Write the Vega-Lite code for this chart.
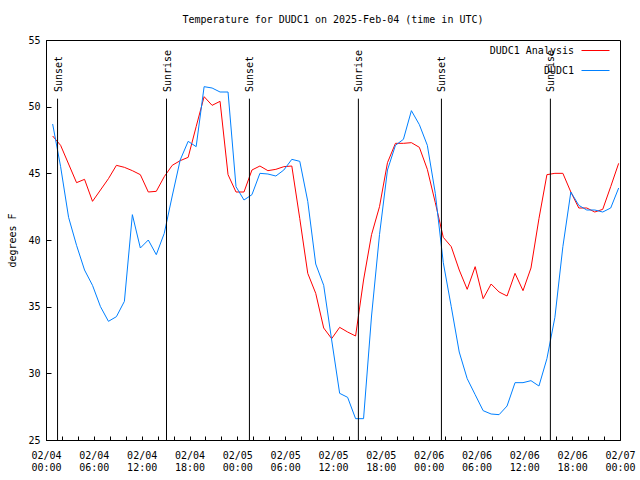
{
  "$schema": "https://vega.github.io/schema/vega-lite/v6.json",
  "width": 574,
  "height": 400,
  "autosize": {"type": "none"},
  "padding": {"left": 46, "top": 40, "right": 20, "bottom": 40},
  "background": "white",
  "config": {
    "font": "DejaVu Sans Mono",
    "view": {"stroke": "black", "strokeWidth": 1},
    "axis": {
      "labelFont": "DejaVu Sans Mono",
      "labelFontSize": 10,
      "labelColor": "black",
      "titleFont": "DejaVu Sans Mono",
      "titleFontSize": 10,
      "titleFontWeight": "normal",
      "titleColor": "black",
      "domainColor": "black",
      "tickColor": "black",
      "grid": false
    }
  },
  "title": {
    "text": "Temperature for DUDC1 on 2025-Feb-04 (time in UTC)",
    "font": "DejaVu Sans Mono",
    "fontSize": 10,
    "fontWeight": "normal",
    "color": "black",
    "anchor": "middle",
    "offset": 10
  },
  "datasets": {
    "temps": [
      {"t": "2025-02-04T00:50:00Z", "s": "DUDC1 Analysis", "v": 47.8},
      {"t": "2025-02-04T01:50:00Z", "s": "DUDC1 Analysis", "v": 47.1},
      {"t": "2025-02-04T02:50:00Z", "s": "DUDC1 Analysis", "v": 45.7},
      {"t": "2025-02-04T03:50:00Z", "s": "DUDC1 Analysis", "v": 44.3},
      {"t": "2025-02-04T04:50:00Z", "s": "DUDC1 Analysis", "v": 44.55},
      {"t": "2025-02-04T05:50:00Z", "s": "DUDC1 Analysis", "v": 42.9},
      {"t": "2025-02-04T06:50:00Z", "s": "DUDC1 Analysis", "v": 43.75},
      {"t": "2025-02-04T07:50:00Z", "s": "DUDC1 Analysis", "v": 44.6},
      {"t": "2025-02-04T08:50:00Z", "s": "DUDC1 Analysis", "v": 45.6},
      {"t": "2025-02-04T09:50:00Z", "s": "DUDC1 Analysis", "v": 45.45},
      {"t": "2025-02-04T10:50:00Z", "s": "DUDC1 Analysis", "v": 45.2},
      {"t": "2025-02-04T11:50:00Z", "s": "DUDC1 Analysis", "v": 44.9},
      {"t": "2025-02-04T12:50:00Z", "s": "DUDC1 Analysis", "v": 43.6},
      {"t": "2025-02-04T13:50:00Z", "s": "DUDC1 Analysis", "v": 43.65},
      {"t": "2025-02-04T14:50:00Z", "s": "DUDC1 Analysis", "v": 44.75},
      {"t": "2025-02-04T15:50:00Z", "s": "DUDC1 Analysis", "v": 45.6},
      {"t": "2025-02-04T16:50:00Z", "s": "DUDC1 Analysis", "v": 45.95},
      {"t": "2025-02-04T17:50:00Z", "s": "DUDC1 Analysis", "v": 46.2},
      {"t": "2025-02-04T18:50:00Z", "s": "DUDC1 Analysis", "v": 48.5},
      {"t": "2025-02-04T19:50:00Z", "s": "DUDC1 Analysis", "v": 50.75},
      {"t": "2025-02-04T20:50:00Z", "s": "DUDC1 Analysis", "v": 50.1},
      {"t": "2025-02-04T21:50:00Z", "s": "DUDC1 Analysis", "v": 50.4},
      {"t": "2025-02-04T22:50:00Z", "s": "DUDC1 Analysis", "v": 44.9},
      {"t": "2025-02-04T23:50:00Z", "s": "DUDC1 Analysis", "v": 43.6},
      {"t": "2025-02-05T00:50:00Z", "s": "DUDC1 Analysis", "v": 43.6},
      {"t": "2025-02-05T01:50:00Z", "s": "DUDC1 Analysis", "v": 45.25},
      {"t": "2025-02-05T02:50:00Z", "s": "DUDC1 Analysis", "v": 45.55},
      {"t": "2025-02-05T03:50:00Z", "s": "DUDC1 Analysis", "v": 45.2},
      {"t": "2025-02-05T04:50:00Z", "s": "DUDC1 Analysis", "v": 45.3},
      {"t": "2025-02-05T05:50:00Z", "s": "DUDC1 Analysis", "v": 45.5},
      {"t": "2025-02-05T06:50:00Z", "s": "DUDC1 Analysis", "v": 45.55},
      {"t": "2025-02-05T07:50:00Z", "s": "DUDC1 Analysis", "v": 41.6},
      {"t": "2025-02-05T08:50:00Z", "s": "DUDC1 Analysis", "v": 37.5},
      {"t": "2025-02-05T09:50:00Z", "s": "DUDC1 Analysis", "v": 36.0},
      {"t": "2025-02-05T10:50:00Z", "s": "DUDC1 Analysis", "v": 33.4},
      {"t": "2025-02-05T11:50:00Z", "s": "DUDC1 Analysis", "v": 32.6},
      {"t": "2025-02-05T12:50:00Z", "s": "DUDC1 Analysis", "v": 33.45},
      {"t": "2025-02-05T13:50:00Z", "s": "DUDC1 Analysis", "v": 33.1},
      {"t": "2025-02-05T14:50:00Z", "s": "DUDC1 Analysis", "v": 32.8},
      {"t": "2025-02-05T15:50:00Z", "s": "DUDC1 Analysis", "v": 37.0},
      {"t": "2025-02-05T16:50:00Z", "s": "DUDC1 Analysis", "v": 40.4},
      {"t": "2025-02-05T17:50:00Z", "s": "DUDC1 Analysis", "v": 42.5},
      {"t": "2025-02-05T18:50:00Z", "s": "DUDC1 Analysis", "v": 45.8},
      {"t": "2025-02-05T19:50:00Z", "s": "DUDC1 Analysis", "v": 47.25},
      {"t": "2025-02-05T20:50:00Z", "s": "DUDC1 Analysis", "v": 47.25},
      {"t": "2025-02-05T21:50:00Z", "s": "DUDC1 Analysis", "v": 47.3},
      {"t": "2025-02-05T22:50:00Z", "s": "DUDC1 Analysis", "v": 46.95},
      {"t": "2025-02-05T23:50:00Z", "s": "DUDC1 Analysis", "v": 45.3},
      {"t": "2025-02-06T00:50:00Z", "s": "DUDC1 Analysis", "v": 42.8},
      {"t": "2025-02-06T01:50:00Z", "s": "DUDC1 Analysis", "v": 40.2},
      {"t": "2025-02-06T02:50:00Z", "s": "DUDC1 Analysis", "v": 39.5},
      {"t": "2025-02-06T03:50:00Z", "s": "DUDC1 Analysis", "v": 37.75},
      {"t": "2025-02-06T04:50:00Z", "s": "DUDC1 Analysis", "v": 36.3},
      {"t": "2025-02-06T05:50:00Z", "s": "DUDC1 Analysis", "v": 38.0},
      {"t": "2025-02-06T06:50:00Z", "s": "DUDC1 Analysis", "v": 35.6},
      {"t": "2025-02-06T07:50:00Z", "s": "DUDC1 Analysis", "v": 36.7},
      {"t": "2025-02-06T08:50:00Z", "s": "DUDC1 Analysis", "v": 36.1},
      {"t": "2025-02-06T09:50:00Z", "s": "DUDC1 Analysis", "v": 35.8},
      {"t": "2025-02-06T10:50:00Z", "s": "DUDC1 Analysis", "v": 37.5},
      {"t": "2025-02-06T11:50:00Z", "s": "DUDC1 Analysis", "v": 36.2},
      {"t": "2025-02-06T12:50:00Z", "s": "DUDC1 Analysis", "v": 37.9},
      {"t": "2025-02-06T13:50:00Z", "s": "DUDC1 Analysis", "v": 41.6},
      {"t": "2025-02-06T14:50:00Z", "s": "DUDC1 Analysis", "v": 44.9},
      {"t": "2025-02-06T15:50:00Z", "s": "DUDC1 Analysis", "v": 45.0},
      {"t": "2025-02-06T16:50:00Z", "s": "DUDC1 Analysis", "v": 45.0},
      {"t": "2025-02-06T17:50:00Z", "s": "DUDC1 Analysis", "v": 43.6},
      {"t": "2025-02-06T18:50:00Z", "s": "DUDC1 Analysis", "v": 42.4},
      {"t": "2025-02-06T19:50:00Z", "s": "DUDC1 Analysis", "v": 42.4},
      {"t": "2025-02-06T20:50:00Z", "s": "DUDC1 Analysis", "v": 42.1},
      {"t": "2025-02-06T21:50:00Z", "s": "DUDC1 Analysis", "v": 42.3},
      {"t": "2025-02-06T22:50:00Z", "s": "DUDC1 Analysis", "v": 44.0},
      {"t": "2025-02-06T23:50:00Z", "s": "DUDC1 Analysis", "v": 45.75},
      {"t": "2025-02-04T00:50:00Z", "s": "DUDC1", "v": 48.7},
      {"t": "2025-02-04T01:50:00Z", "s": "DUDC1", "v": 45.5},
      {"t": "2025-02-04T02:50:00Z", "s": "DUDC1", "v": 41.7},
      {"t": "2025-02-04T03:50:00Z", "s": "DUDC1", "v": 39.6},
      {"t": "2025-02-04T04:50:00Z", "s": "DUDC1", "v": 37.75},
      {"t": "2025-02-04T05:50:00Z", "s": "DUDC1", "v": 36.6},
      {"t": "2025-02-04T06:50:00Z", "s": "DUDC1", "v": 35.0},
      {"t": "2025-02-04T07:50:00Z", "s": "DUDC1", "v": 33.9},
      {"t": "2025-02-04T08:50:00Z", "s": "DUDC1", "v": 34.25},
      {"t": "2025-02-04T09:50:00Z", "s": "DUDC1", "v": 35.4},
      {"t": "2025-02-04T10:50:00Z", "s": "DUDC1", "v": 41.9},
      {"t": "2025-02-04T11:50:00Z", "s": "DUDC1", "v": 39.4},
      {"t": "2025-02-04T12:50:00Z", "s": "DUDC1", "v": 40.0},
      {"t": "2025-02-04T13:50:00Z", "s": "DUDC1", "v": 38.9},
      {"t": "2025-02-04T14:50:00Z", "s": "DUDC1", "v": 40.5},
      {"t": "2025-02-04T15:50:00Z", "s": "DUDC1", "v": 43.3},
      {"t": "2025-02-04T16:50:00Z", "s": "DUDC1", "v": 46.0},
      {"t": "2025-02-04T17:50:00Z", "s": "DUDC1", "v": 47.4},
      {"t": "2025-02-04T18:50:00Z", "s": "DUDC1", "v": 47.0},
      {"t": "2025-02-04T19:50:00Z", "s": "DUDC1", "v": 51.5},
      {"t": "2025-02-04T20:50:00Z", "s": "DUDC1", "v": 51.4},
      {"t": "2025-02-04T21:50:00Z", "s": "DUDC1", "v": 51.1},
      {"t": "2025-02-04T22:50:00Z", "s": "DUDC1", "v": 51.1},
      {"t": "2025-02-04T23:50:00Z", "s": "DUDC1", "v": 44.0},
      {"t": "2025-02-05T00:50:00Z", "s": "DUDC1", "v": 43.0},
      {"t": "2025-02-05T01:50:00Z", "s": "DUDC1", "v": 43.4},
      {"t": "2025-02-05T02:50:00Z", "s": "DUDC1", "v": 45.0},
      {"t": "2025-02-05T03:50:00Z", "s": "DUDC1", "v": 44.95},
      {"t": "2025-02-05T04:50:00Z", "s": "DUDC1", "v": 44.8},
      {"t": "2025-02-05T05:50:00Z", "s": "DUDC1", "v": 45.25},
      {"t": "2025-02-05T06:50:00Z", "s": "DUDC1", "v": 46.05},
      {"t": "2025-02-05T07:50:00Z", "s": "DUDC1", "v": 45.9},
      {"t": "2025-02-05T08:50:00Z", "s": "DUDC1", "v": 42.9},
      {"t": "2025-02-05T09:50:00Z", "s": "DUDC1", "v": 38.2},
      {"t": "2025-02-05T10:50:00Z", "s": "DUDC1", "v": 36.6},
      {"t": "2025-02-05T11:50:00Z", "s": "DUDC1", "v": 32.5},
      {"t": "2025-02-05T12:50:00Z", "s": "DUDC1", "v": 28.5},
      {"t": "2025-02-05T13:50:00Z", "s": "DUDC1", "v": 28.2},
      {"t": "2025-02-05T14:50:00Z", "s": "DUDC1", "v": 26.6},
      {"t": "2025-02-05T15:50:00Z", "s": "DUDC1", "v": 26.6},
      {"t": "2025-02-05T16:50:00Z", "s": "DUDC1", "v": 34.3},
      {"t": "2025-02-05T17:50:00Z", "s": "DUDC1", "v": 40.4},
      {"t": "2025-02-05T18:50:00Z", "s": "DUDC1", "v": 45.25},
      {"t": "2025-02-05T19:50:00Z", "s": "DUDC1", "v": 47.1},
      {"t": "2025-02-05T20:50:00Z", "s": "DUDC1", "v": 47.55},
      {"t": "2025-02-05T21:50:00Z", "s": "DUDC1", "v": 49.7},
      {"t": "2025-02-05T22:50:00Z", "s": "DUDC1", "v": 48.65},
      {"t": "2025-02-05T23:50:00Z", "s": "DUDC1", "v": 47.1},
      {"t": "2025-02-06T00:50:00Z", "s": "DUDC1", "v": 43.5},
      {"t": "2025-02-06T01:50:00Z", "s": "DUDC1", "v": 38.3},
      {"t": "2025-02-06T02:50:00Z", "s": "DUDC1", "v": 35.0},
      {"t": "2025-02-06T03:50:00Z", "s": "DUDC1", "v": 31.6},
      {"t": "2025-02-06T04:50:00Z", "s": "DUDC1", "v": 29.6},
      {"t": "2025-02-06T05:50:00Z", "s": "DUDC1", "v": 28.4},
      {"t": "2025-02-06T06:50:00Z", "s": "DUDC1", "v": 27.2},
      {"t": "2025-02-06T07:50:00Z", "s": "DUDC1", "v": 26.95},
      {"t": "2025-02-06T08:50:00Z", "s": "DUDC1", "v": 26.9},
      {"t": "2025-02-06T09:50:00Z", "s": "DUDC1", "v": 27.55},
      {"t": "2025-02-06T10:50:00Z", "s": "DUDC1", "v": 29.3},
      {"t": "2025-02-06T11:50:00Z", "s": "DUDC1", "v": 29.3},
      {"t": "2025-02-06T12:50:00Z", "s": "DUDC1", "v": 29.45},
      {"t": "2025-02-06T13:50:00Z", "s": "DUDC1", "v": 29.05},
      {"t": "2025-02-06T14:50:00Z", "s": "DUDC1", "v": 31.1},
      {"t": "2025-02-06T15:50:00Z", "s": "DUDC1", "v": 34.2},
      {"t": "2025-02-06T16:50:00Z", "s": "DUDC1", "v": 39.5},
      {"t": "2025-02-06T17:50:00Z", "s": "DUDC1", "v": 43.6},
      {"t": "2025-02-06T18:50:00Z", "s": "DUDC1", "v": 42.6},
      {"t": "2025-02-06T19:50:00Z", "s": "DUDC1", "v": 42.25},
      {"t": "2025-02-06T20:50:00Z", "s": "DUDC1", "v": 42.25},
      {"t": "2025-02-06T21:50:00Z", "s": "DUDC1", "v": 42.1},
      {"t": "2025-02-06T22:50:00Z", "s": "DUDC1", "v": 42.4},
      {"t": "2025-02-06T23:50:00Z", "s": "DUDC1", "v": 43.9}
    ],
    "sun": [
      {"t": "2025-02-04T01:27:00Z", "ev": "Sunset"},
      {"t": "2025-02-04T15:07:00Z", "ev": "Sunrise"},
      {"t": "2025-02-05T01:31:00Z", "ev": "Sunset"},
      {"t": "2025-02-05T15:11:00Z", "ev": "Sunrise"},
      {"t": "2025-02-06T01:36:00Z", "ev": "Sunset"},
      {"t": "2025-02-06T15:16:00Z", "ev": "Sunrise"}
    ]
  },
  "layer": [
    {
      "data": {"name": "temps"},
      "mark": {"type": "line", "strokeWidth": 1},
      "encoding": {
        "x": {
          "field": "t",
          "type": "temporal",
          "scale": {
            "type": "utc",
            "domain": [1738627200000, 1738886400000],
            "nice": false
          },
          "axis": {
            "orient": "bottom",
            "title": null,
            "values": [1738627200000, 1738634400000, 1738641600000, 1738648800000, 1738656000000, 1738663200000, 1738670400000, 1738677600000, 1738684800000, 1738692000000, 1738699200000, 1738706400000, 1738713600000, 1738720800000, 1738728000000, 1738735200000, 1738742400000, 1738749600000, 1738756800000, 1738764000000, 1738771200000, 1738778400000, 1738785600000, 1738792800000, 1738800000000, 1738807200000, 1738814400000, 1738821600000, 1738828800000, 1738836000000, 1738843200000, 1738850400000, 1738857600000, 1738864800000, 1738872000000, 1738879200000, 1738886400000],
            "tickCount": 60,
            "tickSize": -4,
            "labelExpr": "utchours(datum.value) % 6 == 0 ? [utcFormat(datum.value, '%m/%d'), utcFormat(datum.value, '%H:%M')] : ''",
            "labelOverlap": false,
            "labelFlush": false,
            "labelPadding": 14,
            "labelLineHeight": 12,
            "labelBaseline": "top"
          }
        },
        "y": {
          "field": "v",
          "type": "quantitative",
          "scale": {"domain": [25, 55], "nice": false, "zero": false},
          "axis": {
            "orient": "left",
            "title": "degrees F",
            "values": [25, 30, 35, 40, 45, 50, 55],
            "tickSize": -5,
            "labelPadding": 11,
            "titlePadding": 10
          }
        },
        "color": {
          "field": "s",
          "type": "nominal",
          "scale": {"domain": ["DUDC1 Analysis", "DUDC1"], "range": ["#ff0000", "#0080ff"]},
          "legend": {
            "title": null,
            "orient": "none",
            "legendX": 535,
            "legendY": -4,
            "padding": 0,
            "symbolType": "stroke",
            "symbolSize": 784,
            "symbolStrokeWidth": 1,
            "labelAlign": "right",
            "labelOffset": -36,
            "labelFont": "DejaVu Sans Mono",
            "labelFontSize": 10,
            "labelColor": "black",
            "rowPadding": -15
          }
        }
      }
    },
    {
      "data": {"name": "sun"},
      "mark": {"type": "rule", "color": "black", "strokeWidth": 1},
      "encoding": {
        "x": {"field": "t", "type": "temporal"},
        "y": {"datum": 50.6, "type": "quantitative"},
        "y2": {"datum": 25}
      }
    },
    {
      "data": {"name": "sun"},
      "mark": {"type": "text", "angle": 270, "align": "left", "baseline": "middle", "font": "DejaVu Sans Mono", "fontSize": 10, "color": "black", "dy": 1},
      "encoding": {
        "x": {"field": "t", "type": "temporal"},
        "y": {"datum": 51.1, "type": "quantitative"},
        "text": {"field": "ev"}
      }
    }
  ]
}
